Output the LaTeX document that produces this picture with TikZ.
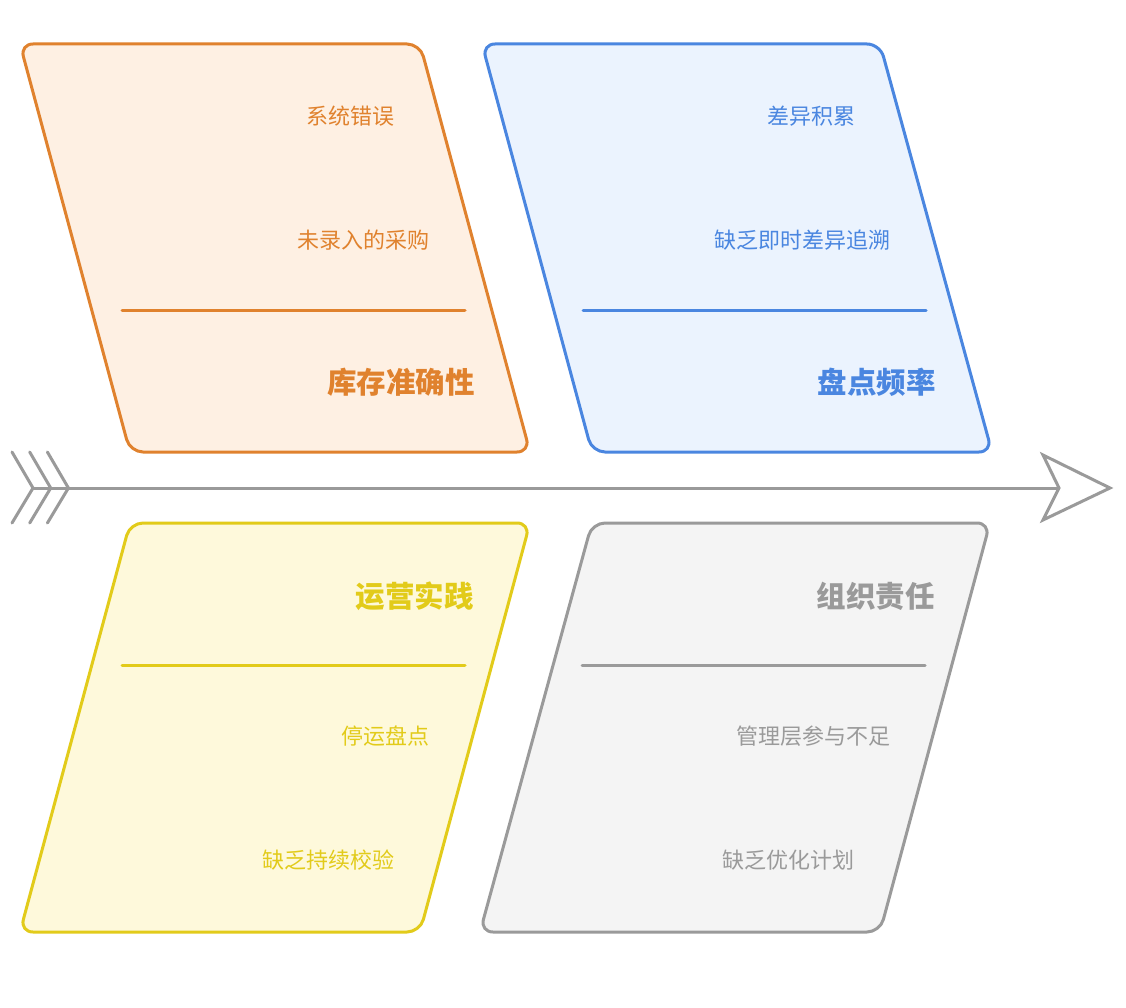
\documentclass[tikz,border=0pt]{standalone}
\usepackage{fontspec}
\setmainfont{Noto Sans CJK SC}
\newfontfamily\cjk{Noto Sans CJK SC}
\definecolor{orS}{HTML}{E0822E}
\definecolor{orF}{HTML}{FEF0E3}
\definecolor{blS}{HTML}{4A86E0}
\definecolor{blF}{HTML}{EBF3FE}
\definecolor{yeS}{HTML}{E2CB1A}
\definecolor{yeF}{HTML}{FEF9DB}
\definecolor{grS}{HTML}{9A9A9A}
\definecolor{grF}{HTML}{F4F4F4}
\begin{document}
\begin{tikzpicture}[x=1pt,y=-1pt,
  box/.style={line width=3pt, rounded corners=13pt, line join=round},
  item/.style={anchor=east, inner sep=0pt, font=\cjk\fontsize{22}{22}\selectfont},
  ttl/.style={anchor=east, inner sep=0pt, font=\cjk\bfseries\fontsize{29.5}{29.5}\selectfont},
  divider/.style={line width=3pt, line cap=round},
  spine/.style={draw=grS, line width=3pt}]
\useasboundingbox (0,0) rectangle (1126,1008);
\fill[white] (0,0) rectangle (1126,1008);

% boxes
\draw[box, draw=orS, fill=orF] (20,44) -- (420,44) -- (530,452) -- (130,452) -- cycle;
\draw[box, draw=blS, fill=blF] (482,44) -- (880,44) -- (992,452) -- (592,452) -- cycle;
\draw[box, draw=yeS, fill=yeF] (130,523) -- (530,523) -- (420,932) -- (20,932) -- cycle;
\draw[box, draw=grS, fill=grF] (592,523) -- (990,523) -- (880,932) -- (480,932) -- cycle;

% dividers
\draw[divider, draw=orS] (122,310) -- (465,310);
\draw[divider, draw=blS] (583,310) -- (926,310);
\draw[divider, draw=yeS] (122,665) -- (465,665);
\draw[divider, draw=grS] (582,665) -- (925,665);

% texts: orange
\node[item, text=orS] (o1) at (395,116) {系统错误};
\node[item, text=orS] (o2) at (430,240) {未录入的采购};
\node[ttl, text=orS] (ot) at (475,382) {库存准确性};
% blue
\node[item, text=blS] (b1) at (856,116) {差异积累};
\node[item, text=blS] (b2) at (891,240) {缺乏即时差异追溯};
\node[ttl, text=blS] (bt) at (936,382) {盘点频率};
% yellow
\node[ttl, text=yeS] (yt) at (474,596) {运营实践};
\node[item, text=yeS] (y1) at (430,736) {停运盘点};
\node[item, text=yeS] (y2) at (395,860) {缺乏持续校验};
% gray
\node[ttl, text=grS] (gt) at (935,596) {组织责任};
\node[item, text=grS] (g1) at (891,736) {管理层参与不足};
\node[item, text=grS] (g2) at (855,860) {缺乏优化计划};

% spine
\coordinate (tail) at (33,488);
\coordinate (head) at (1059,488);
\draw[spine] (tail) -- (head);
\foreach \dx in {0,17.7,35.4}{
  \draw[spine, line cap=round, line join=miter] (12+\dx,452) -- (33+\dx,488) -- (12+\dx,523);
}
\draw[spine, line join=miter, fill=white] (1043,455) -- (1110,488) -- (1043,520) -- (head) -- cycle;
\end{tikzpicture}
\end{document}
